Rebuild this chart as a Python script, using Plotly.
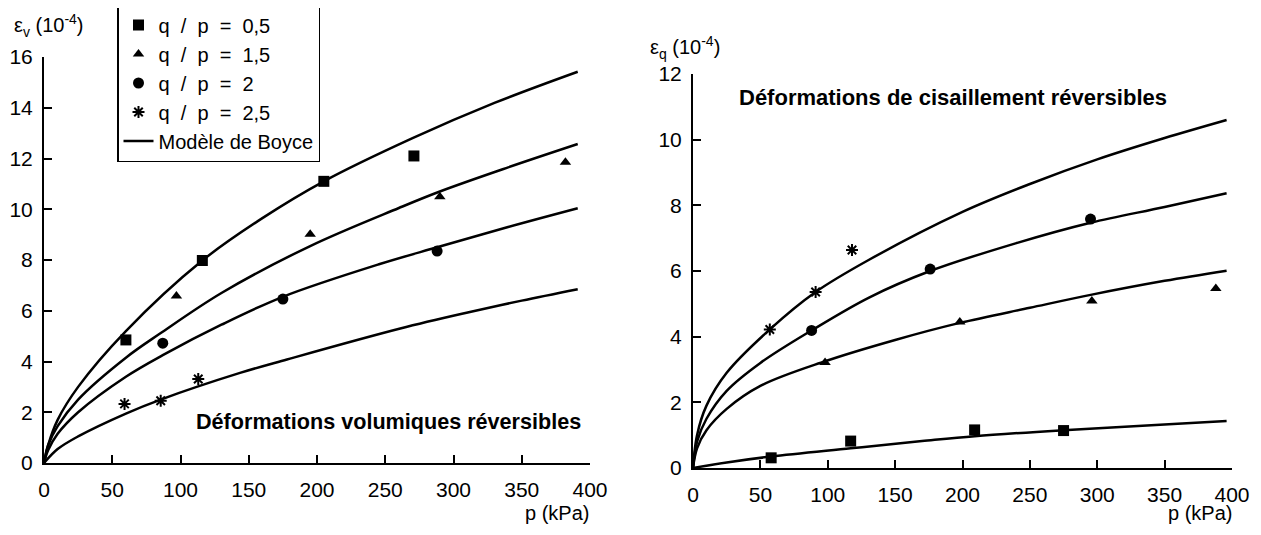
import plotly.graph_objects as go

# ---- left panel: volumetric strain (1e-4) vs p (kPa) ----
v_sq_p = [60, 116, 205, 271]
v_sq_e = [4.85, 7.98, 11.1, 12.1]
v_tri_p = [97, 195, 290, 382]
v_tri_e = [6.58, 9.01, 10.49, 11.85]
v_circ_p = [87, 175, 288]
v_circ_e = [4.72, 6.46, 8.35]
v_star_p = [59, 85.5, 113]
v_star_e = [2.33, 2.45, 3.31]

# Boyce model curves
v_m05_p = [0, 3, 10, 25, 60, 116, 160, 205, 270, 330, 391]
v_m05_e = [0, 0.7, 1.7, 3.0, 5.2, 7.98, 9.65, 11.1, 12.8, 14.19, 15.42]
v_m15_p = [0, 3, 10, 25, 60, 85, 130, 195, 260, 290, 340, 391]
v_m15_e = [0, 0.7, 1.45, 2.5, 4.15, 5.1, 6.7, 8.55, 10.05, 10.7, 11.65, 12.57]
v_m2_p = [0, 3, 10, 25, 60, 87, 130, 175, 246, 288, 340, 391]
v_m2_e = [0, 0.5, 1.15, 2.0, 3.4, 4.25, 5.45, 6.55, 7.84, 8.5, 9.3, 10.04]
v_m25_p = [0, 10, 25, 60, 85.5, 143.6, 178, 261, 312, 350, 391]
v_m25_e = [0, 0.55, 1.05, 1.95, 2.5, 3.55, 4.08, 5.3, 5.95, 6.4, 6.85]

# ---- right panel: shear strain (1e-4) vs p (kPa) ----
q_sq_p = [58, 117, 209, 275]
q_sq_e = [0.31, 0.82, 1.16, 1.14]
q_tri_p = [98, 198, 296, 388]
q_tri_e = [3.21, 4.45, 5.09, 5.47]
q_circ_p = [88, 176, 295]
q_circ_e = [4.19, 6.06, 7.58]
q_star_p = [57, 91, 118]
q_star_e = [4.22, 5.36, 6.64]

q_m25_p = [0, 3, 10, 25, 57, 91, 131, 200, 250, 300, 350, 396]
q_m25_e = [0, 1.0, 1.9, 2.9, 4.22, 5.36, 6.35, 7.8, 8.65, 9.4, 10.05, 10.6]
q_m2_p = [0, 3, 10, 25, 50, 88, 131, 176, 240, 295, 350, 396]
q_m2_e = [0, 0.8, 1.5, 2.35, 3.2, 4.19, 5.2, 6.0, 6.85, 7.47, 7.95, 8.37]
q_m15_p = [0, 3, 10, 25, 50, 98, 150, 198, 250, 296, 350, 396]
q_m15_e = [0, 0.6, 1.15, 1.8, 2.5, 3.25, 3.9, 4.42, 4.88, 5.28, 5.7, 6.01]
q_m05_p = [0, 25, 58, 117, 170, 209, 275, 340, 396]
q_m05_e = [0, 0.17, 0.35, 0.6, 0.82, 0.97, 1.15, 1.3, 1.43]

legend_names = ["q  /  p  =  0,5", "q  /  p  =  1,5", "q  /  p  =  2", "q  /  p  =  2,5", "Modèle de Boyce"]

FONT = "Liberation Sans, Arial, Helvetica, sans-serif"
# the page body has an 8px margin, so the figure is drawn 8px in from the corner
OFF = 8
W, H = 1261 - 2 * OFF, 535 - 2 * OFF


def fx(px):
    return (px - OFF) / W


def fy(py):
    return (H - (py - OFF)) / H


fig = go.Figure()

marker_styles = [
    dict(symbol="square", size=11, color="black"),
    dict(symbol="triangle-up", size=10, color="black"),
    dict(symbol="circle", size=11, color="black"),
    dict(symbol="asterisk-open", size=10, color="black", line=dict(color="black", width=2)),
]

left_pts = [(v_sq_p, v_sq_e), (v_tri_p, v_tri_e), (v_circ_p, v_circ_e), (v_star_p, v_star_e)]
right_pts = [(q_sq_p, q_sq_e), (q_tri_p, q_tri_e), (q_circ_p, q_circ_e), (q_star_p, q_star_e)]

for i, (px, py) in enumerate(left_pts):
    fig.add_trace(go.Scatter(x=px, y=py, mode="markers", marker=marker_styles[i],
                             name=legend_names[i], xaxis="x", yaxis="y"))
for i, (px, py) in enumerate(right_pts):
    fig.add_trace(go.Scatter(x=px, y=py, mode="markers", marker=marker_styles[i],
                             name=legend_names[i], showlegend=False, xaxis="x2", yaxis="y2"))

left_curves = [(v_m05_p, v_m05_e), (v_m15_p, v_m15_e), (v_m2_p, v_m2_e), (v_m25_p, v_m25_e)]
right_curves = [(q_m05_p, q_m05_e), (q_m15_p, q_m15_e), (q_m2_p, q_m2_e), (q_m25_p, q_m25_e)]

for i, (cx, cy) in enumerate(left_curves):
    fig.add_trace(go.Scatter(x=cx, y=cy, mode="lines", line=dict(color="black", width=2.5, shape="spline"),
                             name=legend_names[4], showlegend=(i == 0), xaxis="x", yaxis="y"))
for cx, cy in right_curves:
    fig.add_trace(go.Scatter(x=cx, y=cy, mode="lines", line=dict(color="black", width=2.5, shape="spline"),
                             showlegend=False, xaxis="x2", yaxis="y2"))

axis_common = dict(showline=True, linecolor="black", linewidth=2, ticks="inside", ticklen=8,
                   tickwidth=2, tickcolor="black", showgrid=False, zeroline=False,
                   tickfont=dict(family=FONT, size=21, color="black"))

fig.update_layout(
    width=W, height=H,
    margin=dict(l=0, r=0, t=0, b=0, autoexpand=False),
    paper_bgcolor="white", plot_bgcolor="white",
    font=dict(family=FONT, size=21, color="black"),
    xaxis=dict(domain=[fx(44), fx(590)], range=[0, 400], tickvals=list(range(0, 401, 50)),
               anchor="y", ticklabelstandoff=7, **axis_common),
    yaxis=dict(domain=[fy(463), fy(57)], range=[0, 16], tickvals=list(range(0, 17, 2)),
               anchor="x", ticklabelstandoff=5, **axis_common),
    xaxis2=dict(domain=[fx(693), fx(1232)], range=[0, 400], tickvals=list(range(0, 401, 50)),
                anchor="y2", ticklabelstandoff=7, **axis_common),
    yaxis2=dict(domain=[fy(468), fy(74)], range=[0, 12], tickvals=list(range(0, 13, 2)),
                anchor="x2", ticklabelstandoff=5, **axis_common),
    showlegend=True,
    legend=dict(x=fx(117), y=fy(4), xanchor="left", yanchor="top",
                bordercolor="black", borderwidth=1.5, bgcolor="white",
                font=dict(family=FONT, size=20, color="black"), traceorder="normal",
                itemwidth=30),
)

annots = [
    dict(x=fx(12), y=fy(9), text="ε<sub>v</sub> (10<sup>-4</sup>)", xanchor="left", yanchor="top", size=20),
    dict(x=fx(648), y=fy(31), text="ε<sub>q</sub> (10<sup>-4</sup>)", xanchor="left", yanchor="top", size=20),
    dict(x=fx(591), y=fy(513), text="p (kPa)", xanchor="right", yanchor="middle", size=20),
    dict(x=fx(1234), y=fy(513), text="p (kPa)", xanchor="right", yanchor="middle", size=20),
    dict(x=fx(583), y=fy(422), text="<b>Déformations volumiques réversibles</b>", xanchor="right",
         yanchor="middle", size=21.6),
    dict(x=fx(737), y=fy(97), text="<b>Déformations de cisaillement réversibles</b>", xanchor="left",
         yanchor="middle", size=22),
]
for a in annots:
    size = a.pop("size")
    fig.add_annotation(xref="paper", yref="paper", showarrow=False,
                       font=dict(family=FONT, size=size, color="black"), **a)

fig.write_html("out.html")
